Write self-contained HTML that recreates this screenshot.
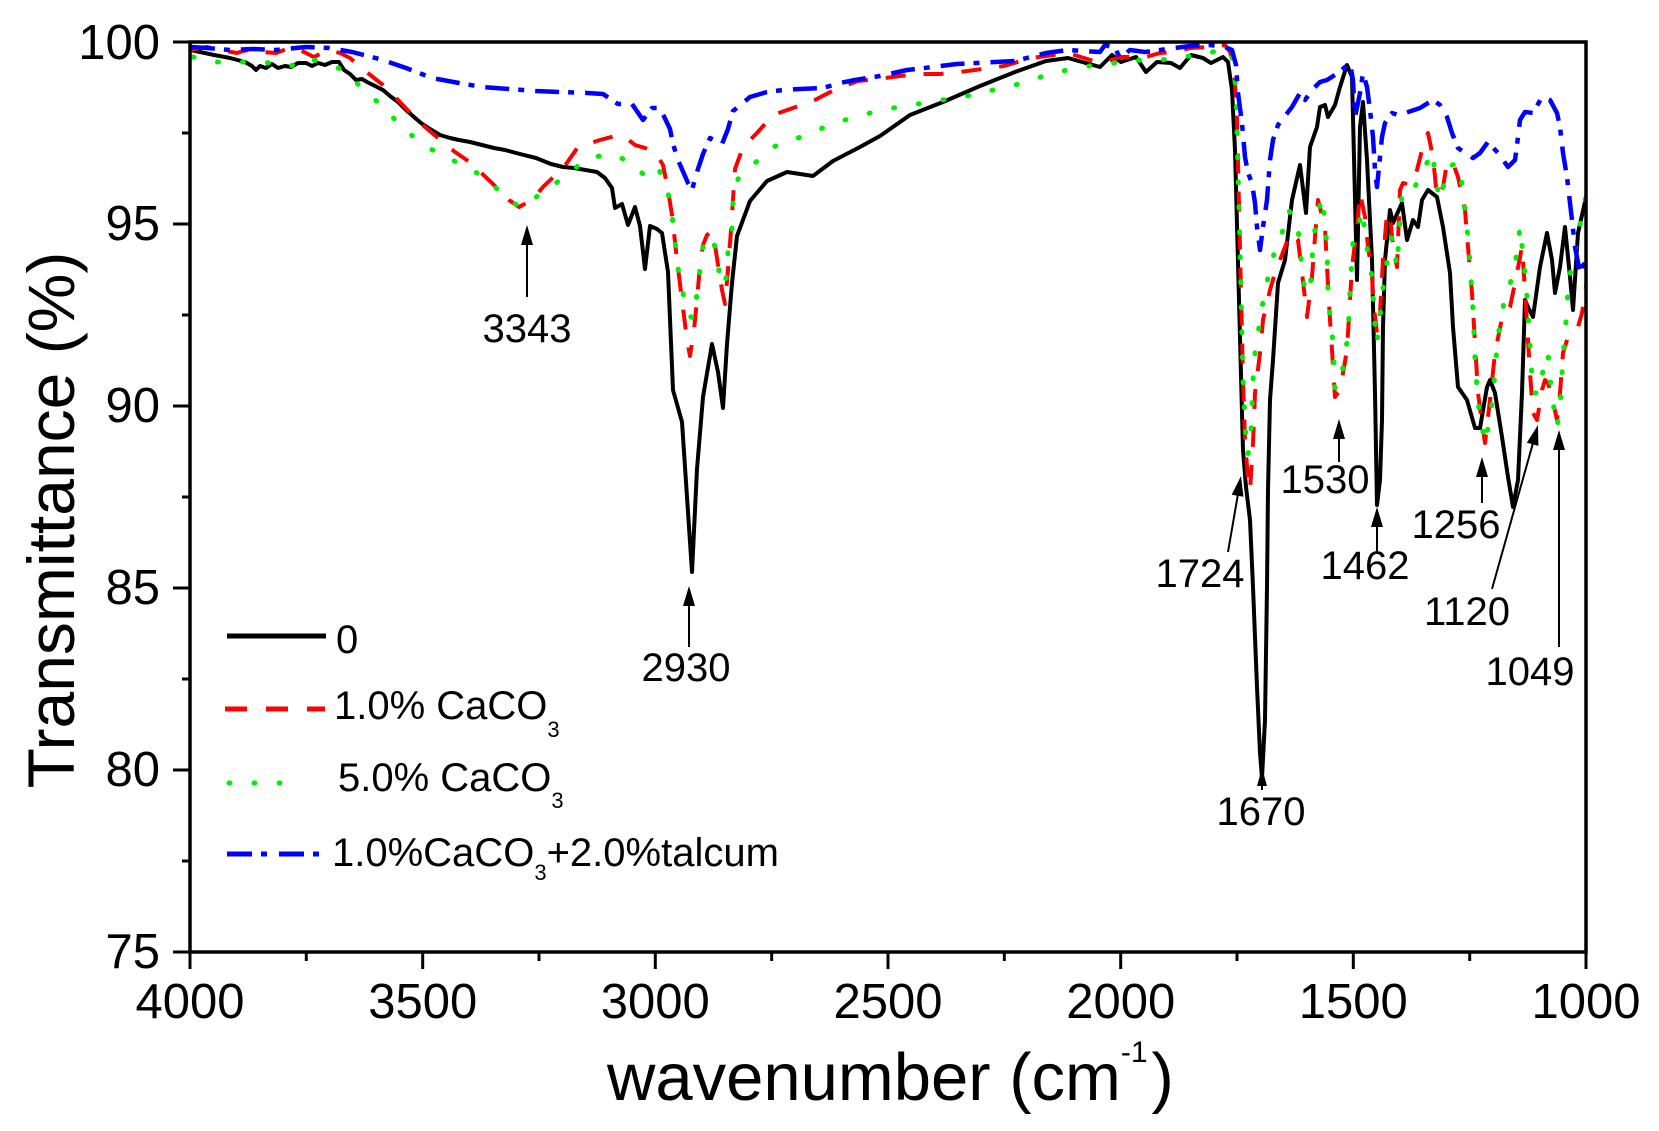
<!DOCTYPE html>
<html><head><meta charset="utf-8"><style>
html,body{margin:0;padding:0;background:#fff;}
svg{display:block;}
text{font-family:"Liberation Sans",Arial,sans-serif;fill:#000;}
</style></head><body>
<svg width="1659" height="1131" viewBox="0 0 1659 1131" xmlns="http://www.w3.org/2000/svg">
<defs><clipPath id="pc"><rect x="190" y="42" width="1396" height="910"/></clipPath></defs>
<rect width="1659" height="1131" fill="#fff"/>

<g clip-path="url(#pc)" fill="none" stroke-linejoin="round">
<polyline stroke="#000" stroke-width="4" points="190,50 200,52 214,55 230,58 245,62 252,66 256,70 260,66 266,68 272,64 278,68 285,66 291,67 298,63 306,63 312,66 318,63 325,65 332,62 339,62 344,70 350,74 356,80 362,79 367,82 375,86 383,90 390,96 398,102 406,110 414,117 421,123 430,129 440,135 450,138 459,140 470,142 482,145 494,148 505,150 520,154 536,158 551,164 563,167 574,168 597,172 605,178 612,188 615,208 622,204 628,225 635,207 640,226 645,269 650,226 657,229 662,233 668,272 673,390 682,422 687,497 692,572 697,469 703,397 712,344 718,372 723,408 727,344 732,283 737,236 750,201 767,181 787,172 813,176 833,161 860,147 880,136 910,115 943,102 980,86 1015,72 1046,61 1068,58 1100,67 1112,55 1121,62 1136,57 1146,72 1157,62 1171,63 1180,68 1191,55 1203,58 1211,63 1223,57 1228,62 1232,90 1235,150 1239,300 1243,450 1246,487 1250,520 1253,587 1257,687 1260,753 1262,778 1265,720 1267,587 1268,490 1270,400 1273,360 1278,283 1285,260 1292,200 1300,165 1306,213 1310,147 1317,127 1320,107 1325,105 1328,117 1335,105 1340,87 1347,65 1352,77 1357,280 1360,127 1363,102 1367,160 1372,260 1375,393 1377,505 1380,480 1382,420 1383,327 1385,260 1390,210 1393,223 1402,203 1407,240 1413,220 1418,227 1422,200 1428,190 1437,197 1443,227 1450,273 1453,327 1458,387 1467,400 1475,428 1480,428 1487,387 1490,380 1495,393 1502,437 1508,477 1513,507 1518,480 1522,393 1525,300 1528,307 1533,317 1540,267 1547,233 1552,260 1555,293 1560,267 1565,227 1570,277 1573,310 1578,233 1587,193"/>
<polyline stroke="#ff0000" stroke-width="4" stroke-dasharray="20 18" points="191,50 200,48 207,47 220,50 237,53 243,51 249,50 262,52 276,53 284,50 291,47 300,50 314,57 322,53 329,50 340,53 350,58 364,70 383,85 398,100 417,120 432,133 455,152 471,163 494,185 509,200 519,207 532,200 543,187 564,167 578,147 600,140 615,136 625,137 635,145 645,148 655,152 663,165 668,190 672,215 677,260 682,300 687,340 690,356 694,330 697,300 700,265 703,245 707,235 711,232 715,245 718,265 722,290 725,304 728,270 731,230 735,169 742,150 750,140 757,133 773,115 793,108 813,101 838,88 858,81 878,79 900,76 920,74 940,74 960,72 1004,66 1031,58 1068,53 1100,63 1121,57 1146,57 1160,53 1175,52 1190,48 1210,47 1225,45 1230,52 1234,65 1237,120 1240,250 1243,380 1245,440 1248,480 1250,490 1253,443 1255,393 1260,353 1263,320 1270,290 1275,273 1285,247 1290,233 1298,240 1302,273 1304,290 1307,317 1312,277 1315,237 1318,200 1325,227 1327,267 1330,320 1332,350 1335,397 1340,390 1347,350 1350,300 1352,267 1357,227 1360,193 1365,217 1368,247 1372,273 1373,300 1377,333 1380,313 1383,260 1387,213 1390,215 1393,247 1397,267 1400,190 1403,183 1410,185 1417,170 1422,150 1428,133 1433,157 1437,197 1443,187 1447,163 1453,163 1458,177 1465,210 1468,247 1472,293 1475,343 1478,393 1482,423 1485,443 1490,400 1495,353 1503,313 1510,307 1515,283 1522,247 1525,290 1530,373 1533,413 1537,420 1542,390 1545,380 1548,383 1552,397 1557,420 1560,393 1563,353 1568,337 1578,327 1582,313 1587,280"/>
<polyline stroke="#00ee00" stroke-width="5" stroke-linecap="round" stroke-dasharray="1 24" points="193,57 205,60 218,62 243,62 264,62 289,67 306,58 325,63 343,70 362,88 383,107 402,127 423,145 448,158 473,170 496,188 519,207 543,193 564,177 588,158 612,154 632,163 645,176 658,167 668,192 672,215 675,240 677,263 682,288 687,313 693,319 697,294 700,270 703,247 713,236 717,261 722,286 727,276 728,251 732,228 733,204 738,179 755,163 773,147 798,138 820,129 845,120 870,113 893,108 918,104 942,100 967,96 1015,85 1057,72 1089,66 1114,63 1135,60 1155,61 1180,57 1203,55 1225,48 1232,55 1236,90 1240,250 1243,380 1246,440 1248,455 1251,430 1253,380 1255,353 1262,307 1267,282 1273,257 1282,233 1288,210 1297,220 1300,247 1302,268 1305,293 1310,290 1312,263 1313,242 1317,217 1322,197 1325,222 1327,247 1328,290 1330,318 1333,342 1335,388 1342,385 1343,363 1348,337 1350,290 1353,242 1357,233 1362,210 1365,232 1368,255 1372,277 1375,327 1377,343 1380,318 1382,297 1385,272 1392,237 1397,267 1400,220 1402,193 1412,193 1423,170 1433,152 1435,177 1440,200 1448,167 1457,163 1463,188 1465,213 1468,237 1470,263 1473,310 1475,358 1478,403 1485,443 1490,418 1493,395 1497,347 1500,322 1505,298 1513,275 1517,252 1520,227 1525,273 1527,297 1530,345 1533,393 1540,393 1543,370 1548,353 1550,378 1553,403 1557,427 1560,408 1563,358 1567,310 1568,287 1572,263 1578,238 1582,213 1587,192"/>
<polyline stroke="#0000ff" stroke-width="4.5" stroke-dasharray="24 9 6 11" points="191,47 207,48 230,50 253,49 276,50 306,47 329,48 352,52 383,60 406,68 432,78 459,83 482,87 509,89 536,91 560,92 587,93 603,94 618,104 632,104 643,120 652,108 660,108 670,129 673,144 678,160 688,183 692,190 697,172 703,154 710,138 722,144 728,129 733,111 750,97 767,92 783,90 800,89 823,88 840,83 855,80 880,76 907,70 933,67 957,64 977,63 1015,61 1046,53 1068,50 1100,52 1105,45 1115,48 1120,58 1130,50 1145,52 1160,50 1175,48 1190,46 1210,45 1225,47 1232,50 1236,65 1238,93 1242,123 1245,157 1248,173 1252,183 1255,203 1257,227 1260,250 1263,227 1267,200 1270,160 1273,140 1278,125 1292,107 1300,93 1305,100 1312,90 1320,82 1327,80 1338,73 1350,63 1353,80 1355,117 1360,93 1363,73 1367,87 1370,110 1373,137 1375,170 1377,187 1380,157 1382,137 1385,123 1392,113 1398,115 1405,113 1420,108 1433,100 1440,105 1447,117 1452,133 1458,148 1473,158 1480,153 1488,142 1498,153 1508,167 1515,160 1518,137 1520,120 1525,112 1533,113 1542,97 1550,100 1557,113 1560,127 1563,153 1567,177 1570,203 1572,220 1575,247 1580,273 1583,265 1587,262"/>
</g>

<!-- frame -->
<rect x="190" y="42" width="1396" height="910" fill="none" stroke="#000" stroke-width="3.5"/>
<!-- ticks -->
<g stroke="#000" stroke-width="3">
<line x1="190" y1="952" x2="190" y2="969"/><line x1="422.7" y1="952" x2="422.7" y2="969"/><line x1="655.3" y1="952" x2="655.3" y2="969"/><line x1="888" y1="952" x2="888" y2="969"/><line x1="1120.7" y1="952" x2="1120.7" y2="969"/><line x1="1353.3" y1="952" x2="1353.3" y2="969"/><line x1="1586" y1="952" x2="1586" y2="969"/>
<line x1="306.3" y1="952" x2="306.3" y2="961"/><line x1="539" y1="952" x2="539" y2="961"/><line x1="771.7" y1="952" x2="771.7" y2="961"/><line x1="1004.3" y1="952" x2="1004.3" y2="961"/><line x1="1237" y1="952" x2="1237" y2="961"/><line x1="1469.7" y1="952" x2="1469.7" y2="961"/>
<line x1="173" y1="42" x2="190" y2="42"/><line x1="173" y1="224" x2="190" y2="224"/><line x1="173" y1="406" x2="190" y2="406"/><line x1="173" y1="588" x2="190" y2="588"/><line x1="173" y1="770" x2="190" y2="770"/><line x1="173" y1="952" x2="190" y2="952"/>
<line x1="182" y1="133" x2="190" y2="133"/><line x1="182" y1="315" x2="190" y2="315"/><line x1="182" y1="497" x2="190" y2="497"/><line x1="182" y1="679" x2="190" y2="679"/><line x1="182" y1="861" x2="190" y2="861"/>
</g>

<!-- tick labels -->
<g font-size="49" text-anchor="middle">
<text x="190" y="1018">4000</text><text x="422.7" y="1018">3500</text><text x="655.3" y="1018">3000</text><text x="888" y="1018">2500</text><text x="1120.7" y="1018">2000</text><text x="1353.3" y="1018">1500</text><text x="1586" y="1018">1000</text>
</g>
<g font-size="49" text-anchor="end">
<text x="160" y="59">100</text><text x="160" y="240">95</text><text x="160" y="422">90</text><text x="160" y="604">85</text><text x="160" y="786">80</text><text x="160" y="968">75</text>
</g>

<!-- axis titles -->
<text font-size="66" text-anchor="middle" transform="translate(74,520) rotate(-90)">Transmittance (%)</text>
<text x="607" y="1100" font-size="67">wavenumber (cm<tspan dy="-38" font-size="30">-1</tspan><tspan dy="38" dx="4">)</tspan></text>

<!-- legend -->
<g fill="none">
<line x1="227" y1="636" x2="326" y2="636" stroke="#000" stroke-width="5"/>
<line x1="225" y1="709" x2="325" y2="709" stroke="#ff0000" stroke-width="5" stroke-dasharray="22 19"/>
<line x1="229" y1="783" x2="304" y2="783" stroke="#00ee00" stroke-width="5" stroke-linecap="round" stroke-dasharray="1 24"/>
<line x1="227" y1="854" x2="320" y2="854" stroke="#0000ff" stroke-width="5" stroke-dasharray="25 9 6 12"/>
</g>
<g font-size="40">
<text x="336" y="653">0</text>
<text x="334" y="719">1.0% CaCO<tspan dy="18" font-size="22">3</tspan></text>
<text x="338" y="791">5.0% CaCO<tspan dy="17" font-size="22">3</tspan></text>
<text x="332" y="866">1.0%CaCO<tspan dy="14" font-size="22">3</tspan><tspan dy="-14">+2.0%talcum</tspan></text>
</g>

<!-- annotations -->
<g font-size="40" text-anchor="middle">
<text x="527" y="342">3343</text>
<text x="686" y="681">2930</text>
<text x="1200" y="587">1724</text>
<text x="1261" y="825">1670</text>
<text x="1325" y="493">1530</text>
<text x="1365" y="579">1462</text>
<text x="1456" y="538">1256</text>
<text x="1467" y="625">1120</text>
<text x="1530" y="685">1049</text>
</g>
<g stroke="#000" stroke-width="2">
<line x1="527" y1="297" x2="527" y2="240"/>
<line x1="689" y1="647" x2="689" y2="600"/>
<line x1="1228" y1="552" x2="1238" y2="494"/>
<line x1="1262" y1="790" x2="1262" y2="782"/>
<line x1="1339" y1="462" x2="1339" y2="434"/>
<line x1="1377" y1="552" x2="1377" y2="522"/>
<line x1="1482" y1="503" x2="1482" y2="472"/>
<line x1="1492" y1="589" x2="1533" y2="443"/>
<line x1="1559" y1="647" x2="1559" y2="445"/>
</g>
<g fill="#000">
<polygon points="527,225 521,245 533,245"/>
<polygon points="689,586 683,606 695,606"/>
<polygon points="1241,476 1243.5,496.7 1231.7,494.7"/>
<polygon points="1262,768 1257,786 1267,786"/>
<polygon points="1339,419 1333,439 1345,439"/>
<polygon points="1377,507 1371,527 1383,527"/>
<polygon points="1482,457 1476,477 1488,477"/>
<polygon points="1538,425 1538.4,445.9 1526.8,442.7"/>
<polygon points="1559,430 1553,450 1565,450"/>
</g>
</svg>
</body></html>
